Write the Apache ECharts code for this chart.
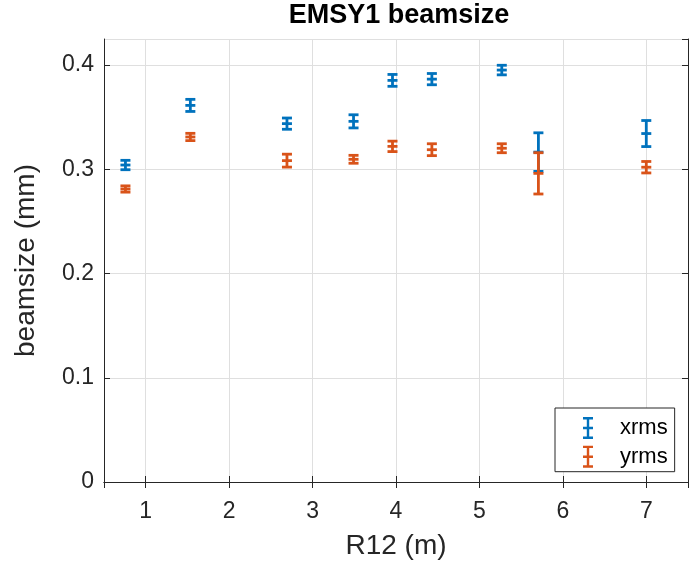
<!DOCTYPE html>
<html>
<head>
<meta charset="utf-8">
<script src="https://cdn.jsdelivr.net/npm/echarts@6/dist/echarts.min.js"></script>
<style>html,body{margin:0;padding:0;background:#fff}#c{width:700px;height:565px}</style>
</head>
<body>
<div id="c"></div>
<script>
// R12 (m) positions
const r12 = [0.757, 1.535, 2.693, 3.491, 3.958, 4.43, 5.268, 5.707, 7.0];
// xrms beamsize (mm) and error
const xrms = [0.3041, 0.3613, 0.3438, 0.346, 0.3853, 0.3865, 0.3952, 0.3165, 0.3343];
const xrmsErr = [0.0045, 0.0058, 0.0054, 0.0063, 0.0057, 0.0054, 0.0046, 0.0185, 0.0125];
// yrms beamsize (mm) and error
const yrms = [0.2811, 0.331, 0.3083, 0.3096, 0.322, 0.3188, 0.3202, 0.2961, 0.302];
const yrmsErr = [0.003, 0.0035, 0.0062, 0.0038, 0.005, 0.0057, 0.0043, 0.0198, 0.0055];
const seriesNames = ['xrms', 'yrms'];
const colors = ['#0072BD', '#D95319'];
const title = 'EMSY1 beamsize';
const xName = 'R12 (m)';
const yName = 'beamsize (mm)';

const FONT = '"Liberation Sans", Arial, Helvetica, sans-serif';
const TXT = '#262626';
const ibeam = 'path://M0,0H10V2.4H6.2V9.8H10V12.2H6.2V19.6H10V22H0V19.6H3.8V12.2H0V9.8H3.8V2.4H0Z';

function build(xs, ys, es) {
  return xs.map((x, i) => [x, ys[i], es[i]]);
}

function renderErr(params, api) {
  const x = api.value(0), y = api.value(1), e = api.value(2);
  const top = api.coord([x, y + e]);
  const bot = api.coord([x, y - e]);
  const mid = api.coord([x, y]);
  const hw = 5;
  const style = { stroke: api.visual('color'), lineWidth: 2.8, fill: null };
  const line = (x1, y1, x2, y2) => ({ type: 'line', shape: { x1, y1, x2, y2 }, style });
  return {
    type: 'group',
    children: [
      line(top[0], top[1], bot[0], bot[1]),
      line(top[0] - hw, top[1], top[0] + hw, top[1]),
      line(bot[0] - hw, bot[1], bot[0] + hw, bot[1]),
      line(mid[0] - hw, mid[1], mid[0] + hw, mid[1])
    ]
  };
}

const chart = echarts.init(document.getElementById('c'), null, { renderer: 'canvas' });
const axisLineStyle = { color: '#262626', width: 1 };
const tickStyle = { color: '#262626', width: 1 };
chart.setOption({
  animation: false,
  backgroundColor: '#fff',
  title: {
    text: title, left: 394, top: -3, textAlign: 'center',
    textStyle: { fontFamily: FONT, fontWeight: 'bold', fontSize: 27, color: '#000' }
  },
  legend: {
    orient: 'vertical',
    left: 555, top: 408,
    width: 120,
    backgroundColor: '#fff',
    borderColor: '#262626', borderWidth: 1,
    padding: [9, 7, 4, 28],
    itemWidth: 10, itemHeight: 22, itemGap: 6.7,
    data: seriesNames.map(n => ({ name: n, icon: ibeam })),
    textStyle: { fontFamily: FONT, fontSize: 22, color: '#000', padding: [0, 0, 0, 22] }
  },
  grid: { left: 104, right: 12, top: 39, bottom: 79 },
  xAxis: [{
    type: 'value', min: 0.5, max: 7.5, splitNumber: 7, position: 'bottom',
    name: xName, nameLocation: 'middle', nameGap: 50,
    nameTextStyle: { fontFamily: FONT, fontSize: 28, color: TXT },
    axisLine: { show: true, lineStyle: axisLineStyle },
    axisTick: { show: true, inside: true, length: 6, lineStyle: tickStyle },
    axisLabel: { fontFamily: FONT, fontSize: 23, color: TXT, margin: 18, showMinLabel: false, showMaxLabel: false },
    splitLine: { show: true, lineStyle: { color: '#dfdfdf', width: 1 } }
  }, {
    type: 'value', min: 0.5, max: 7.5, splitNumber: 7, position: 'top',
    axisLine: { show: true, lineStyle: axisLineStyle },
    axisTick: { show: true, inside: true, length: 6, lineStyle: tickStyle },
    axisLabel: { show: false }, splitLine: { show: false }
  }],
  yAxis: [{
    type: 'value', min: 0, max: 0.425, interval: 0.1, position: 'left',
    name: yName, nameLocation: 'middle', nameGap: 64, nameRotate: 90,
    nameTextStyle: { fontFamily: FONT, fontSize: 28, color: TXT },
    axisLine: { show: true, lineStyle: axisLineStyle },
    axisTick: { show: true, inside: true, length: 6, lineStyle: tickStyle },
    axisLabel: { fontFamily: FONT, fontSize: 23, color: TXT, margin: 10, showMaxLabel: false },
    splitLine: { show: true, lineStyle: { color: '#dfdfdf', width: 1 } }
  }, {
    type: 'value', min: 0, max: 0.425, interval: 0.1, position: 'right',
    axisLine: { show: true, lineStyle: axisLineStyle },
    axisTick: { show: true, inside: true, length: 6, lineStyle: tickStyle },
    axisLabel: { show: false }, splitLine: { show: false }
  }],
  series: [
    { name: seriesNames[0], type: 'custom', renderItem: renderErr, itemStyle: { color: colors[0] },
      encode: { x: 0, y: [1] }, data: build(r12, xrms, xrmsErr), z: 2 },
    { name: seriesNames[1], type: 'custom', renderItem: renderErr, itemStyle: { color: colors[1] },
      encode: { x: 0, y: [1] }, data: build(r12, yrms, yrmsErr), z: 3 }
  ]
});
</script>
</body>
</html>
